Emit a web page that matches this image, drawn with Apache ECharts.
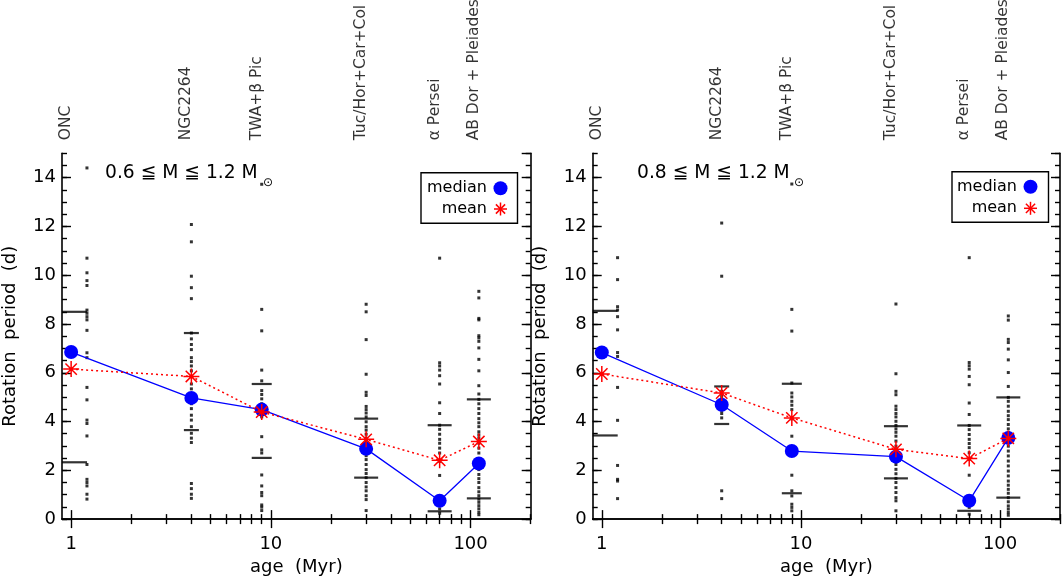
<!DOCTYPE html>
<html>
<head>
<meta charset="utf-8">
<script src="https://cdn.jsdelivr.net/npm/echarts@6/dist/echarts.min.js"></script>
<style>
html,body{margin:0;padding:0;background:#fff;}
#chart{width:1062px;height:581px;}
</style>
</head>
<body>
<div id="chart"></div>
<script>
// ---------------- data ----------------
const clusterLabels = ['ONC', 'NGC2264', 'TWA+β Pic', 'Tuc/Hor+Car+Col', 'α Persei', 'AB Dor + Pleiades'];
const ages = [1, 4, 9, 30, 70, 110];
const dotAges = [1.2, 4, 9, 30, 70, 110];
const barAges = [1.04, 4, 9, 30, 70, 110];
const xTickValues = [1, 10, 100];
const xMinorTickValues = [2, 3, 4, 5, 6, 7, 8, 9, 20, 30, 40, 50, 60, 70, 80, 90, 200];

// Panel A : 0.6 <= M <= 1.2 Msun
const medianA = [6.85, 4.97, 4.49, 2.88, 0.75, 2.28];
const meanA = [6.15, 5.85, 4.39, 3.27, 2.41, 3.18];
const upperA = [8.50, 7.63, 5.54, 4.12, 3.85, 4.91];
const lowerA = [2.33, 3.65, 2.51, 1.70, 0.32, 0.85];
const dotsA_ONC = [14.4, 10.7, 10.1, 9.78, 9.58, 8.57, 8.44, 8.30, 8.17, 7.74, 6.82, 6.62, 5.40, 4.89, 4.06, 3.92, 3.41, 2.24, 1.63, 1.50, 1.36, 1.02, 0.82];
const dotsA_NGC = [12.08, 11.37, 9.96, 9.49, 9.04, 7.63, 7.39, 7.16, 6.95, 6.62, 6.46, 6.28, 6.08, 5.54, 5.34, 5.13, 4.73, 4.53, 4.26, 4.06, 3.79, 3.52, 3.32, 3.14, 1.46, 1.25, 1.02, 0.85];
const dotsA_TWA = [13.73, 8.60, 7.72, 6.11, 5.67, 5.27, 5.11, 4.93, 4.73, 4.60, 4.19, 3.38, 2.84, 2.71, 1.81, 1.36, 1.09, 0.96, 0.58, 0.49, 0.35];
const dotsA_Tuc = [8.81, 8.50, 7.36, 5.94, 5.20, 5.07, 4.62, 4.49, 4.35, 4.19, 3.99, 3.79, 3.65, 3.48, 3.32, 3.18, 3.05, 2.78, 2.60, 2.44, 2.24, 2.03, 1.87, 1.70, 1.50, 1.32, 1.16, 0.96, 0.80, 0.35];
const dotsA_aPer = [10.70, 6.41, 6.28, 6.11, 5.88, 5.54, 4.77, 4.33, 3.85, 3.68, 3.48, 3.27, 3.11, 2.91, 2.71, 2.37, 1.79, 0.69, 0.42, 0.24];
const dotsA_ABD = [9.34, 9.07, 8.23, 8.17, 7.52, 7.43, 7.29, 7.02, 6.55, 6.08, 5.47, 5.13, 4.91, 4.73, 4.53, 4.33, 4.12, 3.95, 3.79, 3.58, 3.45, 3.32, 3.11, 2.91, 2.71, 2.47, 2.24, 2.03, 1.83, 1.66, 1.50, 1.29, 1.12, 0.96, 0.82, 0.69, 0.55, 0.42, 0.28, 0.18];

// Panel B : 0.8 <= M <= 1.2 Msun
const medianB = [6.83, 4.69, 2.79, 2.56, 0.75, 3.33];
const meanB = [5.95, 5.17, 4.15, 2.86, 2.48, 3.31];
const upperB = [8.54, 5.44, 5.55, 3.81, 3.84, 4.99];
const lowerB = [3.43, 3.90, 1.06, 1.67, 0.34, 0.88];
const dotsB_ONC = [10.72, 9.82, 8.71, 8.57, 8.30, 7.76, 6.83, 6.67, 5.40, 4.05, 2.20, 1.63, 1.56, 0.84];
const dotsB_NGC = [12.14, 9.96, 5.24, 5.03, 4.83, 4.63, 4.46, 4.33, 4.15, 1.16, 0.84];
const dotsB_TWA = [13.74, 8.60, 7.71, 5.58, 5.17, 5.01, 4.83, 4.67, 4.49, 4.11, 3.40, 2.79, 1.80, 1.16, 0.95, 0.61, 0.48, 0.34];
const dotsB_Tuc = [8.82, 5.96, 5.24, 5.10, 4.63, 4.49, 4.33, 4.19, 4.01, 3.84, 3.70, 3.56, 3.40, 3.20, 2.99, 2.79, 2.45, 2.24, 2.04, 1.86, 1.67, 1.50, 1.29, 1.09, 0.88, 0.75, 0.34];
const dotsB_aPer = [10.72, 6.42, 6.29, 6.15, 5.85, 5.51, 4.76, 4.29, 3.84, 3.67, 3.47, 3.27, 3.10, 2.93, 2.72, 2.45, 1.80, 0.68, 0.48, 0.20];
const dotsB_ABD = [8.33, 8.16, 7.37, 7.24, 6.97, 6.53, 6.01, 5.44, 4.99, 4.83, 4.63, 4.42, 4.24, 4.08, 3.88, 3.70, 3.54, 3.36, 3.20, 2.99, 2.79, 2.59, 2.38, 2.18, 1.97, 1.77, 1.56, 1.39, 1.22, 1.06, 0.88, 0.71, 0.54, 0.41, 0.27, 0.16];

const massLabelA = '0.6 ≦ M ≦ 1.2 M';
const massLabelB = '0.8 ≦ M ≦ 1.2 M';

// ---------------- styling / building ----------------
const FONT = 'DejaVu Sans';
const BLUE = '#0000ff';
const RED = '#ff0000';
const ASTER = 'path://M0,-10L0,10M-10,0L10,0M-7.1,-7.1L7.1,7.1M-7.1,7.1L7.1,-7.1';

const panels = [
  {med: medianA, mean: meanA, up: upperA, lo: lowerA,
   dots: [dotsA_ONC, dotsA_NGC, dotsA_TWA, dotsA_Tuc, dotsA_aPer, dotsA_ABD],
   grid: {left: 60, right: 531.3, top: 153.3, bottom: 58.3}},
  {med: medianB, mean: meanB, up: upperB, lo: lowerB,
   dots: [dotsB_ONC, dotsB_NGC, dotsB_TWA, dotsB_Tuc, dotsB_aPer, dotsB_ABD],
   grid: {left: 592.7, right: 2, top: 153.3, bottom: 60}}
];

const axisLineStyle = {show: true, lineStyle: {color: '#000', width: 1.6}};
const tickStyle = {color: '#000', width: 1.4};
const xAxes = [], yAxes = [], series = [], grids = [];

panels.forEach((p, g) => {
  grids.push(p.grid);
  const xBase = {type: 'log', logBase: 10, min: 0.9, max: 200, gridIndex: g, splitLine: {show: false}};
  xAxes.push(Object.assign({}, xBase, {
    position: 'bottom', axisLine: axisLineStyle,
    axisTick: {show: true, inside: true, length: 9, customValues: xTickValues, lineStyle: tickStyle},
    axisLabel: {show: true, customValues: xTickValues, margin: 16, color: '#000', fontFamily: FONT, fontSize: 18,
      formatter: v => String(Math.round(v))},
    name: 'age  (Myr)', nameLocation: 'middle', nameGap: 37,
    nameTextStyle: {color: '#000', fontFamily: FONT, fontSize: 18}
  }));
  xAxes.push(Object.assign({}, xBase, {
    position: 'bottom', axisLine: {show: false},
    axisTick: {show: true, inside: true, length: 5, customValues: xMinorTickValues, lineStyle: tickStyle},
    axisLabel: {show: false}
  }));
  xAxes.push(Object.assign({}, xBase, {
    position: 'top', axisLine: axisLineStyle,
    axisTick: {show: true, inside: true, length: 9, customValues: xTickValues, lineStyle: tickStyle},
    axisLabel: {show: false}
  }));
  xAxes.push(Object.assign({}, xBase, {
    position: 'top', axisLine: {show: false},
    axisTick: {show: true, inside: true, length: 5, customValues: xMinorTickValues, lineStyle: tickStyle},
    axisLabel: {show: false}
  }));

  const yBase = {type: 'value', min: 0, max: 15, gridIndex: g, splitLine: {show: false}};
  yAxes.push(Object.assign({}, yBase, {
    position: 'left', interval: 2, axisLine: axisLineStyle,
    axisTick: {show: true, inside: true, length: 9, lineStyle: tickStyle},
    axisLabel: {show: true, margin: 6, color: '#000', fontFamily: FONT, fontSize: 18, showMaxLabel: false},
    name: 'Rotation  period  (d)', nameLocation: 'middle', nameGap: 43,
    nameTextStyle: {color: '#000', fontFamily: FONT, fontSize: 18}
  }));
  yAxes.push(Object.assign({}, yBase, {
    position: 'left', interval: 0.5, axisLine: {show: false},
    axisTick: {show: true, inside: true, length: 5, lineStyle: tickStyle},
    axisLabel: {show: false}
  }));
  yAxes.push(Object.assign({}, yBase, {
    position: 'right', interval: 2, axisLine: axisLineStyle,
    axisTick: {show: true, inside: true, length: 9, lineStyle: tickStyle},
    axisLabel: {show: false}
  }));
  yAxes.push(Object.assign({}, yBase, {
    position: 'right', interval: 0.5, axisLine: {show: false},
    axisTick: {show: true, inside: true, length: 5, lineStyle: tickStyle},
    axisLabel: {show: false}
  }));

  const xi = g * 4, yi = g * 4;
  const dotData = [];
  p.dots.forEach((arr, i) => arr.forEach(v => dotData.push([dotAges[i], v])));
  series.push({type: 'scatter', xAxisIndex: xi, yAxisIndex: yi, data: dotData,
    symbol: 'rect', symbolSize: 3, itemStyle: {color: '#000'}, silent: true, z: 2});
  const barData = [];
  barAges.forEach((a, i) => { barData.push([a, p.up[i]]); barData.push([a, p.lo[i]]); });
  series.push({type: 'scatter', xAxisIndex: xi, yAxisIndex: yi, data: barData, symbol: 'rect',
    symbolSize: v => [v[0] < 2 ? 25 : v[0] < 6 ? 15 : v[0] < 20 ? 20 : 24, 2.2],
    itemStyle: {color: '#000'}, silent: true, z: 3});
  series.push({type: 'line', xAxisIndex: xi, yAxisIndex: yi,
    data: ages.map((a, i) => [a, p.med[i]]),
    symbol: 'circle', symbolSize: 14, showAllSymbol: true,
    itemStyle: {color: BLUE}, lineStyle: {color: BLUE, width: 1.3}, silent: true, z: 4});
  series.push({type: 'line', xAxisIndex: xi, yAxisIndex: yi,
    data: ages.map((a, i) => [a, p.mean[i]]),
    symbol: ASTER, symbolSize: 16, showAllSymbol: true,
    itemStyle: {color: RED, borderColor: RED, borderWidth: 1.5},
    lineStyle: {color: RED, width: 1.5, type: [2, 3]}, silent: true, z: 5});
  series.push({type: 'scatter', xAxisIndex: xi, yAxisIndex: yi,
    data: ages.map((a, i) => ({value: [a, 15], name: clusterLabels[i]})),
    symbolSize: 0, silent: true, z: 6,
    label: {show: true, formatter: '{b}', position: 'top', distance: 13, rotate: 90, offset: [0, 3],
      align: 'left', verticalAlign: 'bottom', color: '#000', fontFamily: FONT, fontSize: 15.5}});
});

function asteriskLines(cx, cy, r) {
  const d = r * 0.71;
  const segs = [[0, -r, 0, r], [-r, 0, r, 0], [-d, -d, d, d], [-d, d, d, -d]];
  return segs.map(s => ({type: 'line', shape: {x1: cx + s[0], y1: cy + s[1], x2: cx + s[2], y2: cy + s[3]},
    style: {stroke: RED, lineWidth: 1.5}, z: 101}));
}

function legendGraphics(bx, by, tx, ix, r1, r2) {
  return [
    {type: 'rect', shape: {x: bx, y: by, width: 96.5, height: 50.5}, style: {fill: '#fff', stroke: '#000', lineWidth: 1.4}, z: 100},
    {type: 'text', x: tx, y: r1, style: {text: 'median', fill: '#000', font: '16px "DejaVu Sans"', align: 'right', verticalAlign: 'middle'}, z: 101},
    {type: 'circle', shape: {cx: ix, cy: r1, r: 7}, style: {fill: BLUE}, z: 101},
    {type: 'text', x: tx, y: r2, style: {text: 'mean', fill: '#000', font: '16px "DejaVu Sans"', align: 'right', verticalAlign: 'middle'}, z: 101}
  ].concat(asteriskLines(ix, r2, 6.5));
}

const graphic = [].concat(
  legendGraphics(421, 172.7, 487, 500.5, 188.3, 209),
  legendGraphics(952, 171.7, 1017, 1030.5, 186.7, 208.3),
  [
    {type: 'text', x: 105, y: 173, style: {text: massLabelA, fill: '#000', font: '18.7px "DejaVu Sans"', verticalAlign: 'middle'}, z: 50},
    {type: 'text', x: 263, y: 183, style: {text: '⊙', fill: '#000', font: '12px "DejaVu Sans"', verticalAlign: 'middle'}, z: 50},
    {type: 'text', x: 637, y: 173, style: {text: massLabelB, fill: '#000', font: '18.7px "DejaVu Sans"', verticalAlign: 'middle'}, z: 50},
    {type: 'text', x: 794, y: 183, style: {text: '⊙', fill: '#000', font: '12px "DejaVu Sans"', verticalAlign: 'middle'}, z: 50}
  ]
);

const chart = echarts.init(document.getElementById('chart'), null, {renderer: 'canvas'});
chart.setOption({
  animation: false,
  backgroundColor: '#fff',
  textStyle: {fontFamily: FONT},
  grid: grids,
  xAxis: xAxes,
  yAxis: yAxes,
  series: series,
  graphic: graphic
});
</script>
</body>
</html>
